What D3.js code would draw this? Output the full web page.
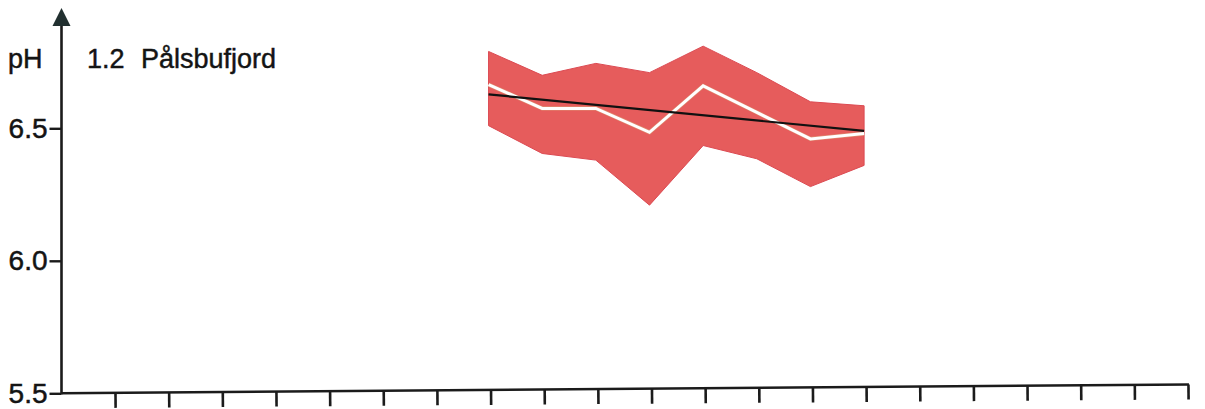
<!DOCTYPE html>
<html>
<head>
<meta charset="utf-8">
<script src="https://cdn.jsdelivr.net/npm/d3@7"></script>
<style>
  html, body { margin: 0; padding: 0; background: #ffffff; }
  svg { display: block; }
  text { font-family: "Liberation Sans", Arial, Helvetica, sans-serif; fill: #141414; }
</style>
</head>
<body>
<svg id="chart" width="1205" height="409"></svg>
<script>
// ---- data ----
const xIndex   = [7, 8, 9, 10, 11, 12, 13, 14];               // sampling periods on the x axis
const upperPH  = [6.79, 6.70, 6.745, 6.71, 6.81, 6.71, 6.60, 6.585];
const lowerPH  = [6.51, 6.405, 6.38, 6.21, 6.435, 6.385, 6.28, 6.36];
const meanPH   = [6.665, 6.575, 6.575, 6.485, 6.66, 6.56, 6.46, 6.48];
const trendX   = [7, 14];
const trendPH  = [6.628, 6.49];
const xTicks   = d3.range(0, 21);
const yTicks   = [5.5, 6.0, 6.5];
const yTickLabels = ["5.5", "6.0", "6.5"];
const yLabel   = "pH";
const titleNum = "1.2";
const titleName = "Pålsbufjord";

// ---- layout ----
const svg = d3.select("#chart");
const axisX0 = 61.5;
const x = d3.scaleLinear().domain([0, 20]).range([115, 1188]);
const y = d3.scaleLinear().domain([5.5, 6.5]).range([393.3, 128.3]);
const axisColor = "#1b1b1b";

// ---- band (min-max) ----
const band = xIndex.map((d, i) => ({ x: d, lo: lowerPH[i], hi: upperPH[i] }));
svg.append("path")
  .datum(band)
  .attr("d", d3.area().x(d => x(d.x) - 2).y0(d => y(d.lo)).y1(d => y(d.hi)))
  .attr("fill", "#e65c5c")
  .attr("stroke", "#dc4a52")
  .attr("stroke-width", 1);

// ---- mean line (white) ----
const meanLine = d3.line().x(d => x(d.x) - 2).y(d => y(d.v));
const mean = xIndex.map((d, i) => ({ x: d, v: meanPH[i] }));
svg.append("path")
  .datum(mean)
  .attr("d", meanLine)
  .attr("fill", "none")
  .attr("stroke", "#d8b880")
  .attr("stroke-width", 4.2)
  .attr("stroke-opacity", 0.5);
svg.append("path")
  .datum(mean)
  .attr("d", meanLine)
  .attr("fill", "none")
  .attr("stroke", "#ffffff")
  .attr("stroke-width", 3);

// ---- trend line (black) ----
const trend = trendX.map((d, i) => ({ x: d, v: trendPH[i] }));
svg.append("path")
  .datum(trend)
  .attr("d", d3.line().x(d => x(d.x) - 2).y(d => y(d.v)))
  .attr("fill", "none")
  .attr("stroke", "#111111")
  .attr("stroke-width", 2.2);

// ---- x axis (slightly tilted like the scanned original) ----
const xAxisG = svg.append("g")
  .attr("transform", `translate(0,${y(5.5)}) rotate(-0.45, ${axisX0}, 0)`)
  .call(d3.axisBottom(x).tickValues(xTicks).tickSize(15).tickSizeOuter(0).tickFormat(""));
xAxisG.select(".domain")
  .attr("d", `M${axisX0},0H${x(20) + 1}`)
  .attr("stroke", axisColor).attr("stroke-width", 2.6);
xAxisG.selectAll(".tick line").attr("stroke", axisColor).attr("stroke-width", 2.6);

// ---- y axis ----
const yAxisG = svg.append("g")
  .attr("transform", `translate(${axisX0},0)`)
  .call(d3.axisLeft(y).tickValues(yTicks).tickSize(12).tickPadding(2)
        .tickFormat((d, i) => yTickLabels[i]));
yAxisG.select(".domain").remove();
yAxisG.selectAll(".tick line").attr("stroke", axisColor).attr("stroke-width", 2.4);
yAxisG.selectAll(".tick text")
  .attr("font-size", 28)
  .attr("font-family", "Liberation Sans, Arial, sans-serif")
  .attr("fill", "#141414")
  .attr("stroke", "#141414")
  .attr("stroke-width", 0.5);

const yTop = y(6.89);
svg.append("line")
  .attr("x1", axisX0).attr("x2", axisX0)
  .attr("y1", y(5.5) + 1).attr("y2", yTop)
  .attr("stroke", axisColor).attr("stroke-width", 2.6);
svg.append("path")
  .attr("d", `M${axisX0},${yTop - 17}L${axisX0 - 9},${yTop + 1}L${axisX0 + 9},${yTop + 1}Z`)
  .attr("fill", "#223030");

// ---- labels ----
const labelStyle = sel => sel.attr("font-size", 27).attr("stroke", "#141414").attr("stroke-width", 0.45);
svg.append("text")
  .attr("x", 8).attr("y", 68)
  .call(labelStyle)
  .text(yLabel);
svg.append("text")
  .attr("x", 87).attr("y", 68)
  .call(labelStyle)
  .text(titleNum);
svg.append("text")
  .attr("x", 141).attr("y", 68)
  .call(labelStyle)
  .text(titleName);
</script>
</body>
</html>
